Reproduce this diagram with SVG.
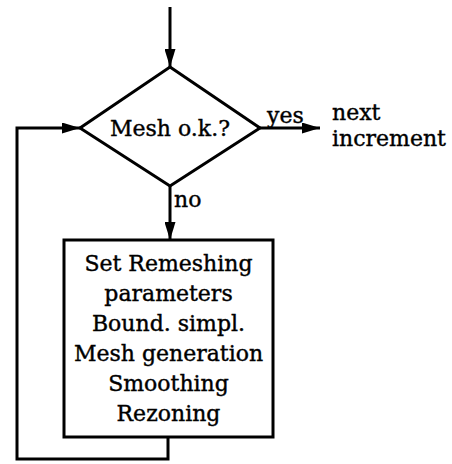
<svg xmlns="http://www.w3.org/2000/svg" width="452" height="464" viewBox="0 0 452 464">
<style>
.ln{fill:none;stroke:#000;stroke-width:3}
.shape{fill:#fff;stroke:#000;stroke-width:3}
.t{font-family:"DejaVu Serif","Liberation Serif",serif;font-size:22px;fill:#000;stroke:#000;stroke-width:0.4}
.c{text-anchor:middle}
</style>
<defs>
<marker id="ah" viewBox="0 0 18 11" refX="18" refY="5.5" markerWidth="18" markerHeight="11" markerUnits="userSpaceOnUse" orient="auto">
<path d="M0,0 L18,5.5 L0,11 z" fill="#000"/>
</marker>
</defs>
<rect width="452" height="464" fill="#fff"/>
<g id="connectors">
<line class="ln" x1="170" y1="7" x2="170" y2="67" marker-end="url(#ah)"/>
<line class="ln" x1="170" y1="186" x2="170" y2="240" marker-end="url(#ah)"/>
<line class="ln" x1="260" y1="128" x2="320" y2="128" marker-end="url(#ah)"/>
<polyline class="ln" points="168,437 168,459 17,459 17,128 80,128" marker-end="url(#ah)"/>
<text class="t" x="174" y="207">no</text>
<text class="t" x="267" y="123">yes</text>
</g>
<g id="decision">
<polygon class="shape" points="170,67 260,128 170,186 80,128"/>
<text class="t c" x="170" y="136">Mesh o.k.?</text>
</g>
<g id="next">
<text class="t" x="332" y="120">next</text>
<text class="t" x="332" y="146">increment</text>
</g>
<g id="remesh">
<rect class="shape" x="64" y="240" width="209" height="197"/>
<text class="t c" x="168.5" y="271">Set Remeshing</text>
<text class="t c" x="168.5" y="301">parameters</text>
<text class="t c" x="168.5" y="331">Bound. simpl.</text>
<text class="t c" x="168.5" y="361">Mesh generation</text>
<text class="t c" x="168.5" y="391">Smoothing</text>
<text class="t c" x="168.5" y="421">Rezoning</text>
</g>
</svg>
